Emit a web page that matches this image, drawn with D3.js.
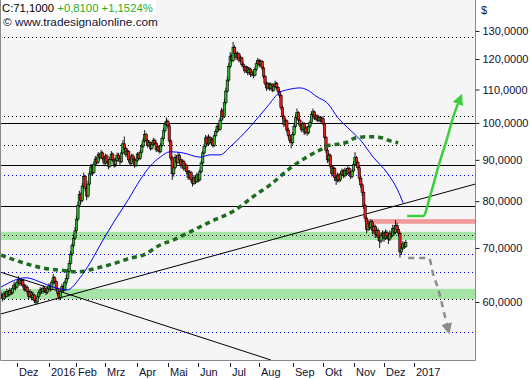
<!DOCTYPE html>
<html>
<head>
<meta charset="utf-8">
<script src="https://cdn.jsdelivr.net/npm/d3@7/dist/d3.min.js"></script>
<style>
  body { margin: 0; background: #fff; }
  svg text { font-family: "Liberation Sans", Arial, sans-serif; }
</style>
</head>
<body>
<svg id="chart" width="531" height="380"></svg>
<script>
// ---- data ----
const startDate = '2015-11-13';
const holidays = ['2015-11-26', '2015-12-25', '2016-01-01', '2016-01-18', '2016-02-15', '2016-03-25',
  '2016-05-30', '2016-07-04', '2016-09-05', '2016-11-24', '2016-12-26', '2017-01-02'];

const closes = [
  61.2, 60.6, 61.4, 61.0, 61.8, 61.3, 62.0, 61.6, 62.4, 63.0,
  62.6, 63.4, 64.0, 63.2, 63.8, 62.9, 62.2, 62.6, 61.8, 61.0,
  61.6, 60.8, 61.2, 60.2, 60.0, 60.9, 61.6, 62.1, 61.8, 62.4,
  62.0, 61.7, 62.3, 62.8, 62.2, 63.4, 64.3, 63.6, 62.4, 61.5,
  60.8, 61.9, 62.7, 62.1, 63.4, 64.2, 65.5, 67.0, 68.8, 70.5,
  72.0, 73.5, 76.0, 79.0, 81.5, 80.2, 83.5, 85.8, 83.0, 81.2,
  84.0, 86.5, 88.2, 86.8, 88.9, 90.2, 89.4, 91.3, 90.6, 91.8,
  90.4, 89.2, 91.0, 89.6, 88.3, 90.1, 91.5, 90.0, 88.8, 89.9,
  91.2, 90.4, 89.5, 91.8, 94.2, 93.0, 91.4, 92.2, 90.0, 89.1,
  91.0, 90.2, 88.6, 89.8, 91.5, 90.4, 92.0, 93.6, 95.0, 96.8,
  95.2, 93.8, 94.6, 93.0, 94.0, 95.2, 94.4, 92.6, 93.4, 92.2,
  93.8, 95.6, 97.8, 99.6, 100.5, 99.2, 95.0, 90.5, 86.5, 88.0,
  90.6, 89.4, 91.2, 90.0, 88.5, 89.6, 87.8, 88.6, 87.0, 85.6,
  86.8, 85.0, 84.2, 85.6, 84.6, 86.2, 85.0, 87.0, 89.2, 91.8,
  93.5, 95.8, 94.2, 96.0, 94.6, 95.4, 93.8, 96.4, 97.6, 99.0,
  98.2, 100.8, 103.5, 101.8, 106.0, 109.5, 113.0, 117.5, 121.0, 119.5,
  124.0, 122.0, 120.5, 121.8, 119.6, 120.4, 118.2, 117.4, 116.0, 117.2,
  115.4, 116.6, 114.8, 115.6, 114.6, 116.5, 118.4, 119.5, 118.0, 119.2,
  117.0, 114.2, 112.0, 110.5, 111.8, 110.4, 111.6, 109.8, 110.9, 112.0,
  110.6, 109.4, 108.2, 104.5, 101.8, 99.5, 100.6, 98.0, 96.5, 95.2,
  94.5, 96.8, 99.0, 101.5, 103.0, 100.8, 99.4, 98.2, 99.8, 97.4,
  98.6, 97.2, 99.0, 100.2, 102.5, 103.2, 101.4, 102.0, 100.8, 101.6,
  100.6, 101.2, 99.8, 96.0, 92.5, 90.0, 91.2, 88.4, 86.6, 87.8,
  85.6, 84.8, 86.2, 85.0, 86.4, 87.2, 86.0, 87.4, 86.6, 87.8,
  86.8, 85.8, 87.2, 88.8, 90.6, 89.4, 88.0, 85.4, 83.8, 82.0,
  79.0, 76.2, 73.8, 75.0, 74.2, 75.4, 73.6, 74.4, 72.8, 73.6,
  72.2, 71.4, 72.6, 73.0, 72.0, 73.2, 72.4, 71.8, 73.0, 72.6,
  74.0, 73.2, 74.6, 73.8, 73.0, 69.2, 70.0, 70.8, 70.29, 71.10
];
const highs = [
  61.8, 61.5, 61.9, 61.8, 62.3, 62.1, 62.5, 62.3, 62.9, 63.6,
  63.3, 63.9, 64.6, 64.3, 64.2, 64.0, 63.2, 63.1, 62.9, 62.0,
  62.2, 61.9, 61.8, 61.4, 60.7, 61.3, 62.0, 62.6, 62.5, 62.9,
  62.8, 62.3, 62.7, 63.3, 63.1, 63.9, 65.0, 64.6, 63.8, 62.6,
  61.8, 62.3, 63.2, 63.0, 63.8, 64.8, 66.0, 67.6, 69.4, 71.0,
  72.8, 74.3, 76.8, 79.8, 82.4, 82.0, 84.2, 86.8, 86.2, 83.6,
  84.8, 87.2, 89.0, 88.6, 89.6, 91.0, 90.8, 92.0, 91.8, 92.6,
  92.2, 90.8, 91.6, 91.4, 90.0, 90.8, 92.3, 91.9, 90.4, 90.6,
  91.9, 91.8, 90.9, 92.6, 95.2, 96.2, 93.6, 92.9, 92.6, 90.6,
  91.6, 91.5, 90.6, 90.4, 92.0, 91.9, 92.6, 94.2, 95.8, 98.0,
  97.2, 95.6, 95.2, 94.9, 94.6, 95.8, 95.6, 94.8, 94.0, 93.8,
  94.4, 96.2, 98.6, 100.4, 101.6, 101.0, 99.6, 95.4, 91.0, 88.8,
  91.4, 91.2, 92.0, 91.6, 90.4, 90.2, 90.0, 89.2, 89.0, 87.4,
  87.4, 87.2, 85.6, 86.2, 86.0, 86.8, 86.6, 87.6, 89.8, 92.4,
  94.2, 96.6, 96.4, 96.8, 96.4, 96.0, 95.8, 97.0, 98.2, 99.8,
  99.6, 101.6, 104.4, 104.0, 107.2, 110.6, 114.2, 118.6, 122.4, 121.8,
  126.0, 124.8, 122.6, 122.6, 122.2, 121.2, 120.8, 118.8, 117.8, 117.8,
  117.6, 117.2, 117.0, 116.2, 116.0, 117.2, 119.2, 120.4, 120.0, 119.8,
  119.6, 117.4, 114.6, 112.6, 112.4, 112.2, 112.2, 112.0, 111.6, 112.8,
  112.4, 111.0, 110.0, 108.6, 105.0, 102.4, 101.4, 101.0, 98.6, 97.0,
  95.8, 97.4, 99.8, 102.4, 104.2, 103.4, 101.2, 99.8, 100.4, 100.2,
  99.2, 99.0, 99.6, 100.8, 103.4, 104.2, 103.6, 102.6, 102.4, 102.2,
  102.0, 101.8, 102.0, 100.2, 96.4, 93.0, 91.8, 91.6, 88.8, 88.4,
  88.2, 86.0, 86.8, 86.6, 87.0, 87.8, 87.6, 88.0, 87.8, 88.4,
  88.2, 87.2, 87.8, 89.6, 92.0, 91.0, 89.8, 88.4, 86.0, 84.2,
  82.4, 79.4, 76.6, 75.8, 75.6, 76.0, 75.8, 75.0, 74.8, 74.2,
  74.0, 72.6, 73.2, 73.6, 73.4, 73.8, 73.6, 72.8, 73.6, 73.4,
  74.8, 74.6, 75.8, 75.2, 74.2, 73.4, 70.8, 71.4, 71.2, 71.6
];
const lows = [
  60.5, 60.1, 60.4, 60.6, 60.8, 60.9, 61.0, 61.2, 61.3, 62.1,
  62.0, 62.3, 63.1, 62.8, 62.9, 62.5, 61.8, 61.9, 61.3, 60.5,
  60.7, 60.3, 60.4, 59.8, 59.5, 59.7, 60.6, 61.2, 61.4, 61.5,
  61.6, 61.2, 61.4, 62.0, 61.8, 62.0, 63.1, 63.2, 62.0, 61.0,
  60.3, 60.5, 61.6, 61.6, 61.9, 63.0, 63.9, 65.2, 66.7, 68.4,
  70.1, 71.6, 73.1, 75.6, 78.6, 79.4, 79.8, 83.0, 82.2, 80.2,
  80.8, 83.6, 86.0, 86.0, 86.4, 88.4, 88.8, 89.0, 90.0, 90.2,
  89.8, 88.4, 88.8, 89.0, 87.6, 88.0, 89.8, 89.4, 88.0, 88.2,
  89.5, 89.8, 88.6, 89.2, 91.4, 92.4, 90.8, 90.6, 89.4, 88.4,
  88.8, 89.6, 88.0, 88.2, 89.4, 89.9, 90.0, 91.6, 93.2, 94.6,
  94.6, 93.2, 93.4, 92.4, 92.6, 93.6, 93.8, 92.0, 92.2, 91.6,
  91.8, 93.4, 95.2, 97.2, 99.0, 98.4, 94.4, 89.8, 85.0, 85.8,
  87.6, 88.6, 89.0, 89.2, 87.8, 88.0, 87.2, 87.2, 86.4, 85.0,
  85.2, 84.4, 83.4, 83.8, 84.0, 84.2, 84.4, 84.6, 86.6, 88.8,
  91.4, 93.0, 93.6, 93.8, 94.0, 94.0, 93.2, 93.4, 96.0, 97.2,
  97.6, 97.8, 100.4, 101.0, 101.4, 105.4, 109.0, 112.4, 117.0, 118.6,
  119.0, 121.2, 119.6, 120.0, 118.8, 119.0, 117.4, 116.6, 115.2, 115.4,
  114.6, 114.8, 114.0, 114.2, 113.6, 114.2, 116.0, 117.8, 117.2, 117.4,
  116.2, 113.4, 111.2, 109.6, 110.0, 109.6, 110.0, 109.2, 109.4, 110.4,
  110.0, 108.6, 107.4, 103.8, 101.0, 98.8, 99.0, 97.4, 95.8, 94.4,
  93.0, 94.0, 96.4, 98.6, 101.0, 100.2, 98.8, 97.4, 97.8, 96.6,
  96.8, 96.4, 96.8, 98.6, 99.8, 102.0, 100.8, 100.8, 100.2, 100.4,
  100.0, 100.2, 99.2, 95.4, 91.8, 89.2, 89.4, 87.8, 85.8, 86.0,
  84.8, 83.8, 84.4, 84.4, 84.6, 86.0, 85.4, 85.6, 86.0, 86.2,
  86.2, 85.2, 85.4, 86.8, 88.4, 88.6, 87.4, 84.6, 83.0, 81.2,
  78.2, 75.4, 73.0, 73.4, 73.6, 73.8, 72.8, 73.0, 72.0, 72.2,
  71.4, 70.0, 71.0, 72.0, 71.2, 71.6, 71.8, 70.8, 71.4, 72.0,
  72.2, 72.6, 72.8, 73.2, 72.4, 68.1, 68.6, 69.6, 69.8, 70.0
];

// moving averages, read at bar numbers
const maBars = [0, 17, 29, 36, 45.5, 54.5, 61.4, 70.3, 78.6, 87.6, 95.9, 102.8, 109.7, 116.6, 125.5,
  137.2, 144.1, 151, 157.9, 171.7, 183.4, 192.4, 197.2, 206.2, 211, 217.9, 224.8, 232.4, 240.7,
  247.6, 256.6, 266.2, 273.1, 277.2];
const maValues = [62.6, 64.3, 63.3, 62.6, 62.1, 64.3, 67.1, 71.6, 75.8, 80.3, 85.0, 88.4, 90.7, 92.1, 91.8,
  90.7, 91.3, 91.3, 93.4, 98.9, 104.7, 109.2, 109.9, 110.5, 109.9, 107.7, 105.9, 101.4, 98.0,
  95.3, 90.7, 86.7, 82.8, 79.6];
const slowBars = [0, 20, 29, 41, 52.4, 66.2, 77.2, 89, 98, 109.7, 118.6, 130.3, 144.1, 161.4, 175.2,
  185.5, 199.3, 209.7, 220, 226.9, 233.8, 238.6, 244.1, 251, 256.6, 262.8, 268.3, 273.8];
const slowValues = [68.6, 66.7, 66.1, 65.7, 65.4, 66.1, 66.9, 68.0, 68.6, 70.6, 71.6, 73.3, 75.4, 78.0, 81.4,
  83.8, 87.9, 90.5, 92.6, 93.9, 94.2, 94.7, 95.8, 96.1, 96.1, 95.8, 95.0, 94.5];

// horizontal levels and zones
const solidLevels = [100.0, 88.7, 78.9];
const dottedLevels = [127.8, 102.0, 93.9, 72.6, 60.5];
const blueLevels = [86.2, 68.8, 65.4, 55.1];
const greenZones = [[71.6, 73.3], [60.5, 62.3]];
const redZone = [251, 75.0, 76.0];   // from bar, low, high

// trend lines: [bar, price] pairs
const trendLines = [
  [[0, 58.0], [327, 84.0]],
  [[0, 65.3], [186, 50.85]]
];

// forecast arrows: [bar, price]
const upArrow = [[280, 76.7], [291, 76.7], [296, 81.4], [301.4, 88.2], [307.6, 95.8], [311.7, 101.7], [316.6, 107.4]];
const downArrow = [[280.7, 68.0], [295, 68.0], [298, 64.8], [300.7, 62.8], [302.8, 60.9], [304.8, 58.8], [308.3, 55.4]];

const priceTicks = [60, 70, 80, 90, 100, 110, 120, 130];
const monthNames = ['Jan', 'Feb', 'Mrz', 'Apr', 'Mai', 'Jun', 'Jul', 'Aug', 'Sep', 'Okt', 'Nov', 'Dez'];
const lastTick = '2017-01';
const lastClose = 71.10, change = 0.81, changePct = 1.1524;

// ---- layout ----
const plotW = 475, plotH = 360;
const svg = d3.select('#chart');
const locale = d3.formatLocale({decimal: ',', thousands: '.', grouping: [3], currency: ['', '$']});
const f4 = locale.format('.4f');
const f4s = locale.format('+.4f');

// trading calendar (dates of bars, incl. future days)
const parse = d3.timeParse('%Y-%m-%d');
const fmt = d3.timeFormat('%Y-%m-%d');
const tradingDays = [];
for (let d = parse(startDate); tradingDays.length < 340; d = d3.timeDay.offset(d, 1)) {
  const wd = d.getDay();
  if (wd === 0 || wd === 6 || holidays.includes(fmt(d))) continue;
  tradingDays.push(d);
}

const x = d3.scaleLinear().domain([11, 264]).range([17, 384]);
const y = d3.scaleLog().domain([50.85, 142.0]).range([plotH, 0]);

const candles = closes.map((c, i) => ({
  i: i,
  open: i === 0 ? 61.0 : closes[i - 1],
  close: c,
  high: highs[i],
  low: lows[i]
}));

const defs = svg.append('defs');
defs.append('clipPath').attr('id', 'plotClip')
  .append('rect').attr('width', plotW).attr('height', plotH);

[['headGreen', '#3ccf3c'], ['headGray', '#8c8c8c']].forEach(([id, col]) => {
  defs.append('marker')
    .attr('id', id)
    .attr('viewBox', '0 0 10 10')
    .attr('refX', 6).attr('refY', 5)
    .attr('markerUnits', 'userSpaceOnUse')
    .attr('markerWidth', 11).attr('markerHeight', 11)
    .attr('orient', 'auto')
    .append('path')
    .attr('d', 'M0,0 L10,5 L0,10 z')
    .attr('fill', col);
});

svg.append('rect').attr('width', plotW).attr('height', plotH).attr('fill', '#f5f5f5');

const plot = svg.append('g').attr('clip-path', 'url(#plotClip)');

// zones
plot.selectAll('.zone')
  .data(greenZones)
  .enter().append('rect')
  .attr('x', 0).attr('width', plotW)
  .attr('y', (d) => y(d[1]))
  .attr('height', (d) => y(d[0]) - y(d[1]))
  .attr('fill', '#a6e4a6');

plot.append('rect')
  .attr('x', x(redZone[0])).attr('width', plotW - x(redZone[0]))
  .attr('y', y(redZone[2]))
  .attr('height', y(redZone[1]) - y(redZone[2]))
  .attr('fill', '#f39a9a');

// levels
const levelLine = (vals, col, dash) => plot.append('g').selectAll('line')
  .data(vals)
  .enter().append('line')
  .attr('x1', 0).attr('x2', plotW)
  .attr('y1', (d) => Math.round(y(d)) + 0.5).attr('y2', (d) => Math.round(y(d)) + 0.5)
  .attr('stroke', col).attr('stroke-width', 1)
  .attr('stroke-dasharray', dash);

levelLine(dottedLevels, '#000', '1,3');
levelLine(blueLevels, '#0000e0', '1,3');
levelLine(solidLevels, '#000', null).attr('stroke-width', 1.2);

// trend lines
plot.append('g').selectAll('line')
  .data(trendLines)
  .enter().append('line')
  .attr('x1', (d) => x(d[0][0])).attr('y1', (d) => y(d[0][1]))
  .attr('x2', (d) => x(d[1][0])).attr('y2', (d) => y(d[1][1]))
  .attr('stroke', '#000').attr('stroke-width', 1);

// candles
const cg = plot.append('g').selectAll('g')
  .data(candles)
  .enter().append('g');

cg.append('line')
  .attr('x1', (d) => x(d.i)).attr('x2', (d) => x(d.i))
  .attr('y1', (d) => y(d.high)).attr('y2', (d) => y(d.low))
  .attr('stroke', '#000').attr('stroke-width', 0.9);

cg.append('rect')
  .attr('x', (d) => x(d.i) - 1.2)
  .attr('width', 2.4)
  .attr('y', (d) => y(Math.max(d.open, d.close)))
  .attr('height', (d) => Math.max(0.8, Math.abs(y(d.open) - y(d.close))))
  .attr('fill', (d) => d.close >= d.open ? '#2cb52c' : '#ee1a1a')
  .attr('stroke', '#000').attr('stroke-width', 0.6);

// moving averages
const maLine = d3.line().x((d) => x(d[0])).y((d) => y(d[1])).curve(d3.curveMonotoneX);

plot.append('path')
  .datum(slowBars.map((b, k) => [b, slowValues[k]]))
  .attr('d', maLine)
  .attr('fill', 'none')
  .attr('stroke', '#1d6b1d').attr('stroke-width', 3.5)
  .attr('stroke-dasharray', '5,4');

plot.append('path')
  .datum(maBars.map((b, k) => [b, maValues[k]]))
  .attr('d', maLine)
  .attr('fill', 'none')
  .attr('stroke', '#0000ff').attr('stroke-width', 1);

// forecast arrows
plot.append('path')
  .datum(downArrow)
  .attr('d', maLine)
  .attr('fill', 'none')
  .attr('stroke', '#8c8c8c').attr('stroke-width', 2.5)
  .attr('stroke-dasharray', '6,5')
  .attr('marker-end', 'url(#headGray)');

plot.append('path')
  .datum(upArrow)
  .attr('d', maLine)
  .attr('fill', 'none')
  .attr('stroke', '#3ccf3c').attr('stroke-width', 2.5)
  .attr('marker-end', 'url(#headGreen)');

// header text
svg.append('rect').attr('x', 1).attr('y', 0).attr('width', 155).attr('height', 14).attr('fill', '#fff');
svg.append('rect').attr('x', 1).attr('y', 15).attr('width', 148).attr('height', 14).attr('fill', '#fff');

const head = svg.append('text').attr('x', 2).attr('y', 12).attr('font-size', 11.3);
head.append('tspan').attr('fill', '#000').text('C:' + f4(lastClose));
head.append('tspan').attr('fill', '#1fae1f').text(' ' + f4s(change) + ' ' + f4s(changePct) + '%');

svg.append('text').attr('x', 3).attr('y', 26).attr('font-size', 11.8)
  .attr('fill', '#111133')
  .text('\u00a9 www.tradesignalonline.com');

// frame
svg.append('path')
  .attr('d', `M0.5,0 V${plotH + 0.5} H${plotW + 0.5} V0`)
  .attr('fill', 'none').attr('stroke', '#8a8a8a').attr('stroke-width', 1);

// right axis
const yAxis = svg.append('g').attr('transform', `translate(${plotW + 0.5},0)`)
  .call(d3.axisRight(y).tickValues(priceTicks).tickFormat(f4).tickSize(4).tickPadding(3));
yAxis.select('.domain').remove();
yAxis.selectAll('line').attr('stroke', '#1a1a3a');
yAxis.selectAll('text').attr('font-size', 11).attr('fill', '#101030')
  .attr('font-family', '"Liberation Sans", Arial, sans-serif');

svg.append('text').attr('x', 481).attr('y', 14).attr('font-size', 11)
  .attr('fill', '#101030').text('$');

// bottom axis: first trading day of every month
const monthFmt = d3.timeFormat('%Y-%m');
const monthTicks = tradingDays
  .map((d, i) => ({d: d, i: i}))
  .filter((t) => t.i > 0 && t.d.getMonth() !== tradingDays[t.i - 1].getMonth() && monthFmt(t.d) <= lastTick);

const xt = svg.append('g').selectAll('g')
  .data(monthTicks)
  .enter().append('g')
  .attr('transform', (t) => `translate(${Math.round(x(t.i)) + 0.5},${plotH})`);

xt.append('line').attr('y1', 3).attr('y2', 7).attr('stroke', '#1a1a3a');
xt.append('text')
  .attr('x', 1.5).attr('y', 16)
  .attr('font-size', 11).attr('fill', '#101030')
  .text((t) => t.d.getMonth() === 0 ? String(t.d.getFullYear()) : monthNames[t.d.getMonth()]);
</script>
</body>
</html>
